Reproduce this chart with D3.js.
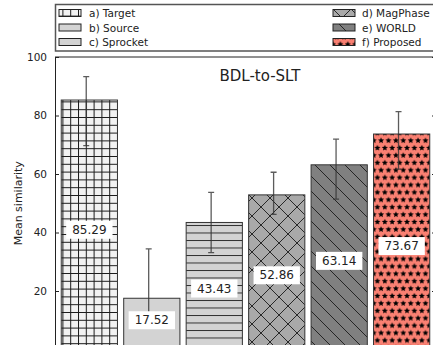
<!DOCTYPE html>
<html>
<head>
<meta charset="utf-8">
<script src="https://cdn.jsdelivr.net/npm/d3@7"></script>
<style>
  html, body { margin: 0; padding: 0; background: #fff; }
  svg { display: block; font-family: "DejaVu Sans", sans-serif; }
</style>
</head>
<body>
<svg id="chart" width="433" height="345"></svg>
<script>
// Systems compared, their mean similarity and the ends of each error bar
const systems = ["a) Target", "b) Source", "c) Sprocket", "d) MagPhase", "e) WORLD", "f) Proposed"];
const means = [85.29, 17.52, 43.43, 52.86, 63.14, 73.67];
const errLow = [69.7, 10.0, 33.1, 46.2, 51.4, 61.7];
const errHigh = [93.3, 34.4, 53.7, 60.6, 71.9, 81.3];
const yTicks = [20, 40, 60, 80, 100];
const title = "BDL-to-SLT";
const yLabel = "Mean similarity";

const svg = d3.select("#chart");

// Plot area (right spine and the zero baseline fall just outside the canvas)
const plot = { left: 55, right: 436, top: 57, bottom: 349.5 };

const x = d3.scaleBand().domain(systems)
  .range([plot.left, plot.right])
  .paddingInner(0.1).paddingOuter(0.1);
const y = d3.scaleLinear().domain([0, 100]).range([plot.bottom, plot.top]);

// ---- hatch patterns -------------------------------------------------------
const defs = svg.append("defs");
const ink = "#1a1a1a";

function pattern(id, w, h, bg) {
  const p = defs.append("pattern").attr("id", id)
    .attr("patternUnits", "userSpaceOnUse")
    .attr("width", w).attr("height", h);
  p.append("rect").attr("width", w).attr("height", h).attr("fill", bg);
  return p;
}
// a) grid
pattern("hatch-grid", 7.8, 7.8, "#f2f2f2")
  .append("path").attr("d", "M0.5,0V7.8M0,0.5H7.8")
  .attr("stroke", ink).attr("stroke-width", 1).attr("fill", "none");
// b) plain
pattern("hatch-none", 10, 10, "#d3d3d3");
// c) horizontal lines
pattern("hatch-h", 10, 7.5, "#d3d3d3")
  .append("path").attr("d", "M0,0.5H10")
  .attr("stroke", ink).attr("stroke-width", 0.9).attr("fill", "none");
// d) diagonal cross
pattern("hatch-x", 18, 18, "#a9a9a9")
  .append("path").attr("d", "M0,0L18,18M18,0L0,18")
  .attr("stroke", ink).attr("stroke-width", 0.9).attr("fill", "none");
// e) back-slash
pattern("hatch-bs", 15, 15, "#808080")
  .append("path").attr("d", "M0,0L15,15M-2,13L2,17M13,-2L17,2")
  .attr("stroke", ink).attr("stroke-width", 0.9).attr("fill", "none");
// f) stars
const starPat = pattern("hatch-star", 7.4, 14.8, "#fa8072");
const starPath = (cx, cy, r) => {
  const pts = [];
  for (let i = 0; i < 10; i++) {
    const rr = i % 2 === 0 ? r : r * 0.45;
    const a = -Math.PI / 2 + i * Math.PI / 5;
    pts.push([cx + rr * Math.cos(a), cy + rr * Math.sin(a)]);
  }
  return "M" + pts.map(p => p.join(",")).join("L") + "Z";
};
[[0, 0], [7.4, 0], [0, 14.8], [7.4, 14.8], [3.7, 7.4]].forEach(([cx, cy]) => {
  starPat.append("path").attr("d", starPath(cx, cy, 3.2)).attr("fill", "#000");
});

const fills = ["hatch-grid", "hatch-none", "hatch-h", "hatch-x", "hatch-bs", "hatch-star"];

// ---- bars -----------------------------------------------------------------
const data = systems.map((s, i) => ({ s, i, v: means[i], lo: errLow[i], hi: errHigh[i] }));

svg.append("g").selectAll("rect").data(data).join("rect")
  .attr("x", d => x(d.s))
  .attr("y", d => y(d.v))
  .attr("width", x.bandwidth())
  .attr("height", d => y(0) - y(d.v))
  .attr("fill", d => `url(#${fills[d.i]})`)
  .attr("stroke", "#333").attr("stroke-width", 1);

// ---- error bars (drawn slightly left of the bar centre) -------------------
const errX = d => x(d.s) + x.bandwidth() / 2 - 0.05 * x.step();
const eb = svg.append("g").attr("stroke", "#333").attr("stroke-opacity", 0.8)
  .attr("stroke-width", 1.3).attr("fill", "none");
eb.selectAll("path").data(data).join("path")
  .attr("d", d => {
    const cx = errX(d), t = y(d.hi), b = y(d.lo);
    return `M${cx},${t}V${b}M${cx - 3},${t}H${cx + 3}M${cx - 3},${b}H${cx + 3}`;
  });

// ---- value labels in white boxes ------------------------------------------
const labels = svg.append("g");
data.forEach(d => {
  const cx = x(d.s) + x.bandwidth() / 2;
  const cy = y(Math.max(d.v * 0.48, 10));
  const g = labels.append("g");
  const t = g.append("text")
    .attr("x", cx).attr("y", cy)
    .attr("text-anchor", "middle").attr("dominant-baseline", "central")
    .attr("font-size", 12).attr("fill", "#222")
    .text(d.v.toFixed(2));
  const w = t.node().getComputedTextLength();
  g.insert("rect", "text")
    .attr("x", cx - w / 2 - 6).attr("y", cy - 9)
    .attr("width", w + 12).attr("height", 18)
    .attr("fill", "#fff");
});

// ---- axes -----------------------------------------------------------------
const axisL = d3.axisLeft(y).tickValues(yTicks).tickSizeInner(-4).tickSizeOuter(0).tickPadding(8);
const gL = svg.append("g").attr("transform", `translate(${plot.left},0)`).call(axisL);
gL.select(".domain").attr("stroke", "#222").attr("stroke-width", 1);
gL.selectAll(".tick line").attr("stroke", "#222");
gL.selectAll(".tick text").attr("font-size", 10.5).attr("fill", "#222")
  .attr("font-family", "DejaVu Sans");

const axisR = d3.axisRight(y).tickValues(yTicks).tickSizeInner(-4).tickSizeOuter(0).tickFormat("");
const gR = svg.append("g").attr("transform", `translate(${plot.right},0)`).call(axisR);
gR.select(".domain").attr("stroke", "#222");
gR.selectAll(".tick line").attr("stroke", "#222");

// top spine
svg.append("line")
  .attr("x1", plot.left).attr("x2", plot.right)
  .attr("y1", plot.top).attr("y2", plot.top)
  .attr("stroke", "#222").attr("stroke-width", 1);

// y-axis title
svg.append("text")
  .attr("transform", `translate(22,${(plot.top + plot.bottom) / 2}) rotate(-90)`)
  .attr("text-anchor", "middle")
  .attr("font-size", 11).attr("fill", "#222")
  .text(yLabel);

// chart title
svg.append("text")
  .attr("x", 260).attr("y", 80.5)
  .attr("text-anchor", "middle")
  .attr("font-size", 15).attr("fill", "#222")
  .text(title);

// ---- legend ---------------------------------------------------------------
const leg = svg.append("g");
leg.append("rect")
  .attr("x", 55.5).attr("y", 4.5).attr("width", 400).attr("height", 46.5)
  .attr("fill", "#fff").attr("stroke", "#555").attr("stroke-width", 1.5);

const legCols = [{ px: 59, tx: 89 }, { px: 333, tx: 362 }];
const legRows = [13, 27.5, 42];
data.forEach(d => {
  const col = legCols[Math.floor(d.i / 3)];
  const ry = legRows[d.i % 3];
  leg.append("rect")
    .attr("x", col.px).attr("y", ry - 3.5)
    .attr("width", 22).attr("height", 7)
    .attr("fill", `url(#${fills[d.i]})`)
    .attr("stroke", "#222").attr("stroke-width", 1);
  leg.append("text")
    .attr("x", col.tx).attr("y", ry)
    .attr("dominant-baseline", "central")
    .attr("font-size", 10.5).attr("fill", "#222")
    .text(d.s);
});
</script>
</body>
</html>
